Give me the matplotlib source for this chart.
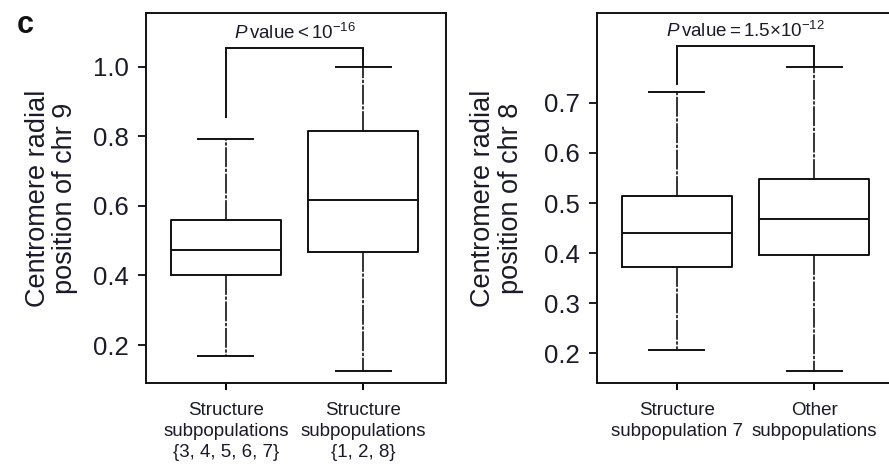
import matplotlib
matplotlib.use("Agg")
import matplotlib.pyplot as plt

plt.rcParams['font.family'] = ['Liberation Sans', 'DejaVu Sans']
plt.rcParams['mathtext.fontset'] = 'custom'
plt.rcParams['mathtext.rm'] = 'Liberation Sans'
plt.rcParams['mathtext.it'] = 'Liberation Sans:italic'

# ---- data ----
chr9_labels = ["Structure\nsubpopulations\n{3, 4, 5, 6, 7}",
               "Structure\nsubpopulations\n{1, 2, 8}"]
chr9_whislo = [0.169, 0.125]
chr9_q1 = [0.400, 0.468]
chr9_med = [0.473, 0.616]
chr9_q3 = [0.559, 0.815]
chr9_whishi = [0.791, 1.000]
chr9_ticks = [0.2, 0.4, 0.6, 0.8, 1.0]
chr9_pvalue = r"$\mathit{P}\,\mathrm{value} < 10^{-16}$"
chr9_bracket = [0.855, 1.054, 1.000]  # left leg bottom, top, right leg bottom

chr8_labels = ["Structure\nsubpopulation 7", "Other\nsubpopulations"]
chr8_whislo = [0.207, 0.165]
chr8_q1 = [0.372, 0.396]
chr8_med = [0.441, 0.468]
chr8_q3 = [0.513, 0.547]
chr8_whishi = [0.721, 0.772]
chr8_ticks = [0.2, 0.3, 0.4, 0.5, 0.6, 0.7]
chr8_pvalue = r"$\mathit{P}\,\mathrm{value} = 1.5{\times}10^{-12}$"
chr8_bracket = [0.737, 0.814, 0.772]

W, H = 889, 469
fig = plt.figure(figsize=(W / 100, H / 100), dpi=100)

LW = 1.4
DASH = (0, (12, 1.0, 2, 1.0))
INK = '#111111'
TXT = '#1a1a2a'


def panel(rect, labels, wlo, q1, med, q3, whi, ticks, ylim, ylabel,
          ptxt, bracket, ptxt_y, label_x, right_spine=True):
    ax = fig.add_axes(rect)
    stats = []
    for i in range(len(labels)):
        stats.append(dict(whislo=wlo[i], q1=q1[i], med=med[i], q3=q3[i],
                          whishi=whi[i], fliers=[]))
    ax.bxp(stats, positions=[1, 2], widths=0.8, showfliers=False,
           boxprops=dict(color=INK, linewidth=LW),
           medianprops=dict(color=INK, linewidth=LW),
           whiskerprops=dict(color=INK, linewidth=LW * 0.85, linestyle=DASH),
           capprops=dict(color=INK, linewidth=LW),
           capwidths=0.4)
    ax.set_xlim(0.42, 2.6)
    ax.set_ylim(*ylim)
    ax.set_yticks(ticks)
    ax.set_yticklabels([f"{t:.1f}" for t in ticks])
    ax.set_xticks([1, 2])
    ax.set_xticklabels(labels, fontsize=13.5, color=TXT, linespacing=1.3)
    ax.tick_params(axis='y', length=5.5, width=LW, pad=7, labelsize=18.5,
                   colors=TXT)
    ax.tick_params(axis='x', length=5, width=LW, pad=9)
    for s in ax.spines.values():
        s.set_linewidth(LW)
        s.set_color(INK)
    ax.spines['right'].set_visible(right_spine)
    ax.set_ylabel(ylabel, fontsize=19.5, color=TXT, linespacing=1.1)
    ax.yaxis.set_label_coords(label_x, 0.5)
    # significance bracket
    ax.plot([1, 1, 2, 2], [bracket[0], bracket[1], bracket[1], bracket[2]],
            color=INK, linewidth=LW, solid_joinstyle='miter')
    ax.text(1.5, ptxt_y, ptxt, ha='center', va='center', fontsize=13.5,
            color=TXT)
    return ax


ax1 = panel([146 / W, 1 - 383 / H, 300 / W, 370 / H], chr9_labels,
            chr9_whislo, chr9_q1, chr9_med, chr9_q3, chr9_whishi,
            chr9_ticks, (0.091, 1.154),
            "Centromere radial\nposition of chr 9", chr9_pvalue,
            chr9_bracket, 1.098, -0.225)
ax2 = panel([597 / W, 1 - 383 / H, 300 / W, 370 / H], chr8_labels,
            chr8_whislo, chr8_q1, chr8_med, chr8_q3, chr8_whishi,
            chr8_ticks, (0.141, 0.879),
            "Centromere radial\nposition of chr 8", chr8_pvalue,
            chr8_bracket, 0.843, -0.245, right_spine=False)

fig.text(17 / W, 1 - 25 / H, "c", fontsize=22, fontweight='bold',
         ha='left', va='center', color=INK)

fig.savefig("out.png", dpi=100)
